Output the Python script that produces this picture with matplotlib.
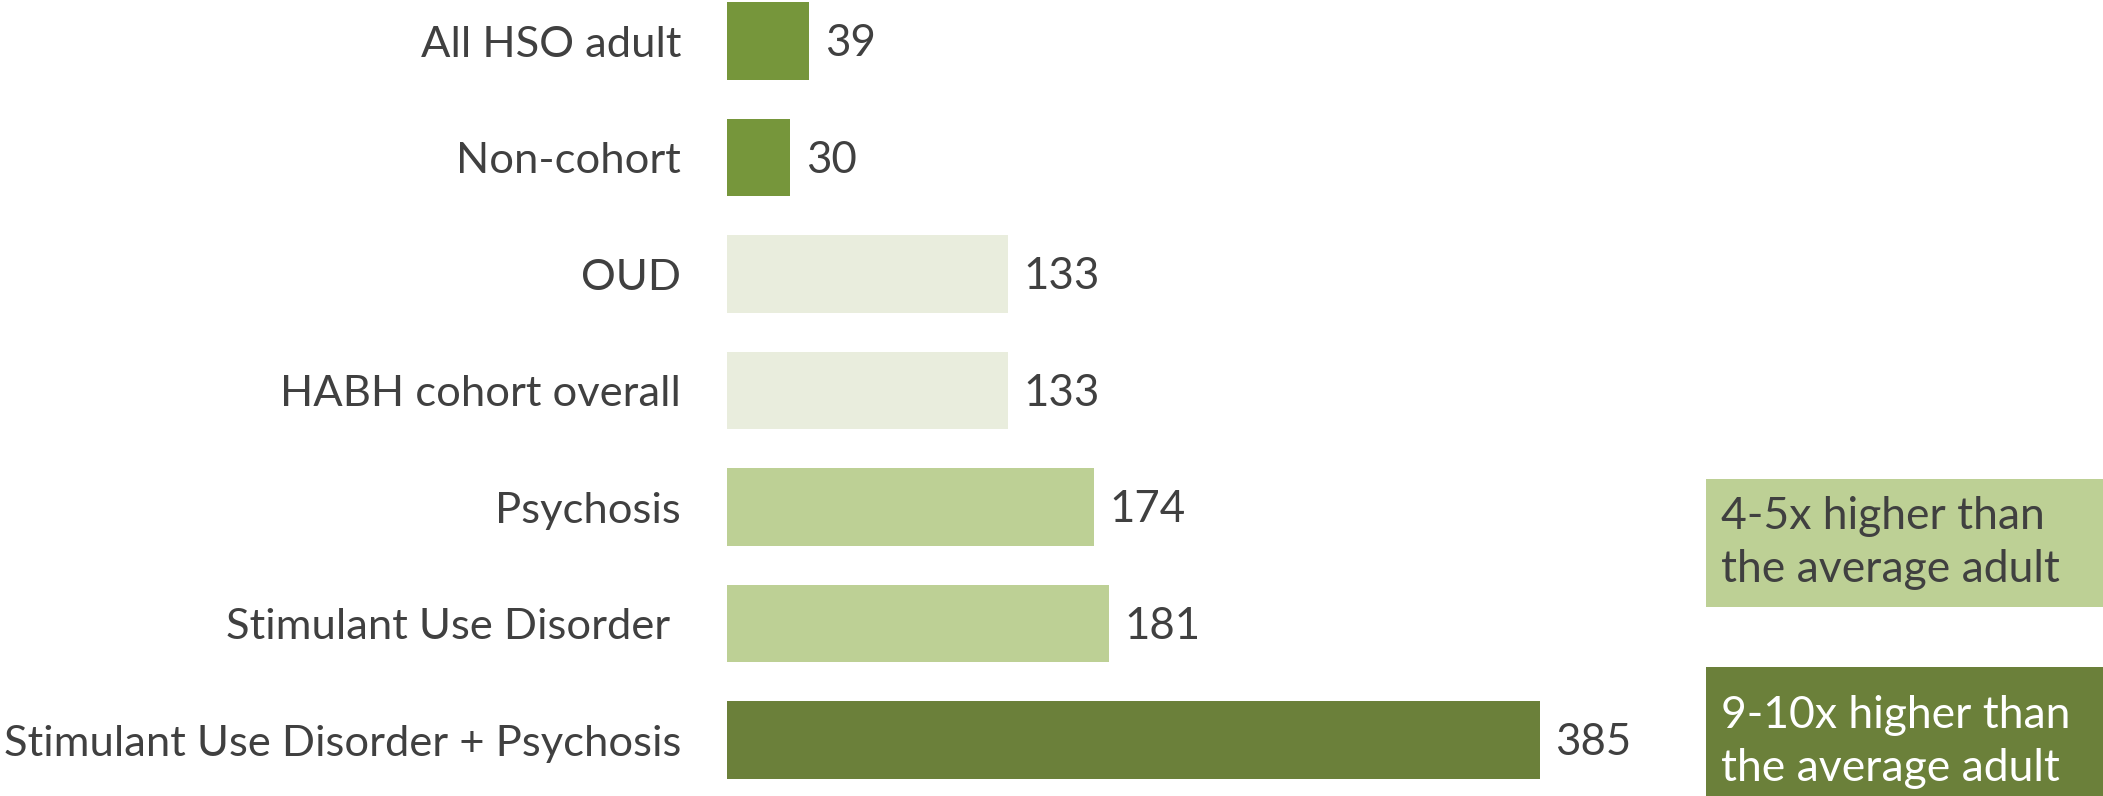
import matplotlib
matplotlib.use("Agg")
import matplotlib.pyplot as plt
from matplotlib.patches import Rectangle

plt.rcParams['font.family'] = ['Lato', 'DejaVu Sans']

categories = [
    "All HSO adult",
    "Non-cohort",
    "OUD",
    "HABH cohort overall",
    "Psychosis",
    "Stimulant Use Disorder ",
    "Stimulant Use Disorder + Psychosis",
]
values = [39, 30, 133, 133, 174, 181, 385]
bar_colors = ["#76963B", "#76963B", "#E9EDDD", "#E9EDDD",
              "#BDD095", "#BDD095", "#6B803A"]

callouts = ["4-5x higher than\nthe average adult",
            "9-10x higher than\nthe average adult"]
callout_fill = ["#BDD095", "#6B803A"]
callout_text = ["#404040", "#FFFFFF"]

TEXT = "#404040"
W, H = 2103, 796

fig = plt.figure(figsize=(W / 100, H / 100), dpi=100)
ax = fig.add_axes([727 / W, 0, 1 - 727 / W, 1])

ypos = list(range(len(categories)))
bars = ax.barh(ypos, values, height=0.667, color=bar_colors, left=0)
ax.set_xlim(0, 652)
ax.set_ylim(6.48, -0.352)

for b, v in zip(bars, values):
    ax.annotate(str(v), (b.get_width(), b.get_y() + b.get_height() / 2),
                xytext=(11, -2), textcoords="offset points",
                ha="left", va="center", fontsize=31.5, color=TEXT)

ax.set_yticks(ypos)
ax.set_yticklabels(categories, fontsize=31.3, color=TEXT)
ax.tick_params(axis="y", length=0, pad=33)
ax.set_xticks([])
for s in ax.spines.values():
    s.set_visible(False)

# callout boxes on the right, in pixel coordinates (x, y, w, h, text centre y)
boxes = [(1706, 479, 397, 128, 543), (1706, 667, 397, 129, 742)]
for (x0, y0, bw, bh, ty), txt, fc, tc in zip(boxes, callouts, callout_fill, callout_text):
    fig.patches.append(Rectangle((x0 / W, 1 - (y0 + bh) / H), bw / W, bh / H,
                                 transform=fig.transFigure, facecolor=fc,
                                 edgecolor="none", zorder=0))
    fig.text((x0 + 15) / W, 1 - ty / H, txt, fontsize=32,
             color=tc, ha="left", va="center", linespacing=1.38)

fig.savefig("out.png", dpi=100)
